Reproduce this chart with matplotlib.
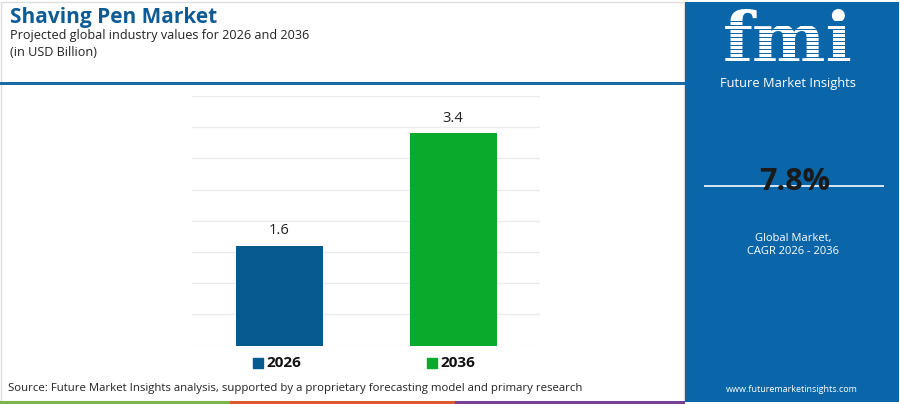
import matplotlib.pyplot as plt
from matplotlib.patches import Rectangle

years = ["2026", "2036"]
values = [1.6, 3.4]
bar_colors = ["#065a8e", "#0aab2c"]
cagr = "7.8%"

plt.rcParams["font.family"] = ["Open Sans", "DejaVu Sans"]

fig = plt.figure(figsize=(9, 4.04), dpi=100)
W, H = 900, 404

def fx(px):
    return px / W

def fy(py):
    return 1 - py / H

# outer light border of the left card
fig.patches.append(Rectangle((fx(1), fy(402)), fx(683), 400 / H, transform=fig.transFigure,
                             fill=False, edgecolor="#dddddd", linewidth=1))

# title block
fig.text(fx(10), fy(17), "Shaving Pen Market", fontsize=15, fontweight="bold",
         color="#0f5c94", va="center", ha="left")
fig.text(fx(10), fy(35), "Projected global industry values for 2026 and 2036",
         fontsize=9.1, color="#222222", va="center", ha="left")
fig.text(fx(10), fy(53), "(in USD Billion)", fontsize=9.1, color="#222222",
         va="center", ha="left")
fig.patches.append(Rectangle((0, fy(84.5)), fx(685), 3 / H, transform=fig.transFigure,
                             color="#1a6aa6", linewidth=0))

# bar chart
ax = fig.add_axes([fx(192), fy(345.7), fx(540 - 192), (345.7 - 96) / H])
x = range(len(years))
bars = ax.bar(x, values, width=0.5, color=bar_colors, zorder=2)
ax.set_xlim(-0.5, 1.5)
ax.set_ylim(0, 4)
ax.set_yticks([i * 0.5 for i in range(9)])
ax.grid(axis="y", color="#ebebeb", linewidth=1, zorder=0)
ax.tick_params(left=False, bottom=False, labelleft=False, labelbottom=False)
for s in ax.spines.values():
    s.set_visible(False)
for b, v in zip(bars, values):
    ax.text(b.get_x() + b.get_width() / 2, v + 0.12, f"{v}", ha="center", va="bottom",
            fontsize=10.5, color="#222222")

# legend under the bars
for i, (yr, c) in enumerate(zip(years, bar_colors)):
    ax.scatter([i - 0.12], [-0.07], marker="s", s=55, color=c, clip_on=False,
               transform=ax.get_xaxis_transform())
    ax.text(i - 0.07, -0.07, yr, transform=ax.get_xaxis_transform(), ha="left",
            va="center", fontsize=11, fontweight="bold", color="#111111")

# source + bottom stripes
fig.text(fx(8), fy(388), "Source: Future Market Insights analysis, supported by a proprietary "
         "forecasting model and primary research", fontsize=8.2, color="#222222",
         va="center", ha="left")
for x0, x1, c in [(0, 230, "#7ab648"), (230, 455, "#e0592a"), (455, 685, "#7b3f98")]:
    fig.patches.append(Rectangle((fx(x0), 0), fx(x1 - x0), 3 / H, transform=fig.transFigure,
                                 color=c, linewidth=0))

# right panel
fig.patches.append(Rectangle((fx(685), fy(402)), fx(214), 400 / H, transform=fig.transFigure,
                             color="#0a66a8", linewidth=0))
fig.text(fx(788), fy(43), "fmi", fontsize=50, fontweight="bold", family="DejaVu Serif",
         color="white", ha="center", va="center")
for yy in range(22, 68, 4):
    fig.patches.append(Rectangle((fx(715), fy(yy)), fx(150), 1.2 / H, transform=fig.transFigure,
                                 color="#0a66a8", linewidth=0, zorder=5))
fig.text(fx(788), fy(84), "Future Market Insights", fontsize=9.3, color="white",
         ha="center", va="center")
fig.patches.append(Rectangle((fx(704), fy(186.5)), fx(180), 1.5 / H, transform=fig.transFigure,
                             color="#cfe3f3", linewidth=0))
fig.text(fx(795), fy(182), cagr, fontsize=22, fontweight="bold", color="#1a1a1a",
         ha="center", va="center")
fig.text(fx(793), fy(238), "Global Market,", fontsize=8, color="white", ha="center", va="center")
fig.text(fx(793), fy(251), "CAGR 2026 - 2036", fontsize=8, color="white", ha="center",
         va="center")
fig.text(fx(792), fy(389), "www.futuremarketinsights.com", fontsize=6.5, color="white",
         ha="center", va="center")

fig.savefig("out.png", dpi=100, facecolor="white")
